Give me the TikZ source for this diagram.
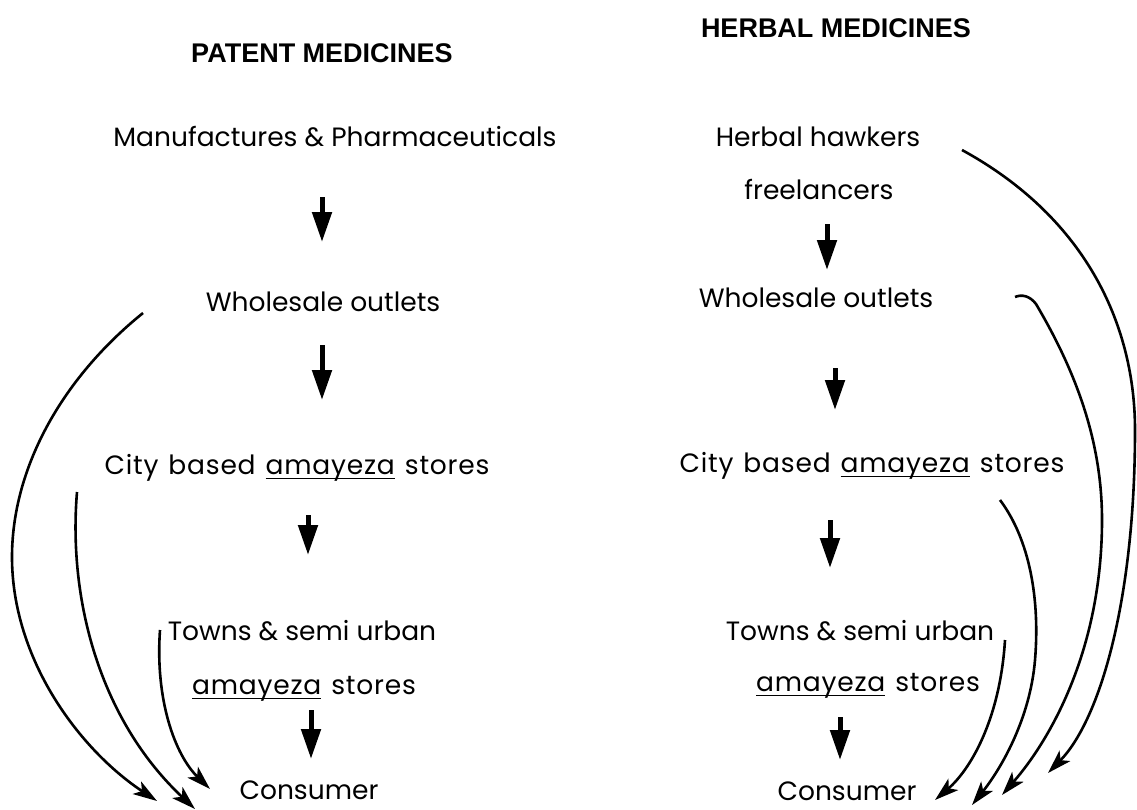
\documentclass[tikz,border=0pt]{standalone}
\usepackage{fontspec}
\setmainfont{Poppins}
\newfontfamily\headfont{Liberation Sans}
\usetikzlibrary{arrows.meta}
\newcommand\ulx[1]{\setbox0\hbox{#1}\rlap{\rule[-5pt]{\wd0}{1.3pt}}#1}
\newcommand\widetxt[1]{{\addfontfeatures{LetterSpace=3}\spaceskip=10pt\relax #1}}
\begin{document}
\begin{tikzpicture}[x=1pt,y=-1pt,
  lbl/.style={anchor=base,inner sep=0pt,font=\fontsize{26.5}{30}\selectfont},
  head/.style={anchor=base,inner sep=0pt,font=\headfont\bfseries\fontsize{27}{30}\selectfont},
  darr/.style={line width=5pt,-{Triangle[length=30pt,width=19pt]}},
  carr/.style={line width=2.6pt,-{Stealth[length=24pt,width=15pt,inset=6pt]}}]
\useasboundingbox (0,0) rectangle (1137,809);
% headings
\node[head] (hp) at (322,62) {PATENT MEDICINES};
\node[head] (hh) at (836,37) {HERBAL MEDICINES};
% left column
\node[lbl] (lm) at (335,146) {Manufactures \& Pharmaceuticals};
\node[lbl] (lw) at (323,311) {Wholesale outlets};
\node[lbl] (lc) at (297,474) {\widetxt{City based \ulx{amayeza} stores}};
\node[lbl] (lt) at (302,640) {Towns \& semi urban};
\node[lbl] (la) at (304,694) {\widetxt{\ulx{amayeza} stores}};
\node[lbl] (lcon) at (309,799) {Consumer};
% right column
\node[lbl] (rh) at (818,146) {Herbal hawkers};
\node[lbl] (rf) at (819,199) {freelancers};
\node[lbl] (rw) at (816,307) {Wholesale outlets};
\node[lbl] (rc) at (872,472) {\widetxt{City based \ulx{amayeza} stores}};
\node[lbl] (rt) at (860,640) {Towns \& semi urban};
\node[lbl] (ra) at (868,691) {\widetxt{\ulx{amayeza} stores}};
\node[lbl] (rcon) at (847,800) {Consumer};
% straight arrows, left
\draw[darr] ([shift={(-13,51)}]lm.base) -- ([shift={(-1,-69)}]lw.base);
\draw[darr] ([shift={(-1,34)}]lw.base) -- ([shift={(25,-74)}]lc.base);
\draw[darr] ([shift={(11,41)}]lc.base) -- ([shift={(6,-85)}]lt.base);
\draw[darr] ([shift={(7,16)}]la.base) -- ([shift={(2,-40)}]lcon.base);
% straight arrows, right
\draw[darr] ([shift={(8,25)}]rf.base) -- ([shift={(11,-37)}]rw.base);
\draw[darr] ([shift={(19,61)}]rw.base) -- ([shift={(-37,-62)}]rc.base);
\draw[darr] ([shift={(-42,48)}]rc.base) -- ([shift={(-30,-72)}]rt.base);
\draw[darr] ([shift={(-28,26)}]ra.base) -- ([shift={(-7,-40)}]rcon.base);
% curved arrows, left
\draw[carr] ([shift={(-180,2)}]lw.base) .. controls (60,380) and (12,470) .. (12,557)
   .. controls (12,660) and (80,750) .. ([shift={(-152,2)}]lcon.base);
\draw[carr] ([shift={(-220,18)}]lc.base) .. controls (68,600) and (100,720) .. ([shift={(-114,10)}]lcon.base);
\draw[carr] ([shift={(-142,-10)}]lt.base) .. controls (155,700) and (175,755) .. ([shift={(-99,-10)}]lcon.base);
% curved arrows, right
\draw[carr] ([shift={(144,4)}]rh.base) .. controls (1090,220) and (1135,330) .. (1135,430)
   .. controls (1135,600) and (1100,720) .. ([shift={(201,-27)}]rcon.base);
\draw[carr] ([shift={(199,-10)}]rw.base) .. controls (1022,294) and (1030,296) .. (1036,304)
   .. controls (1075,370) and (1102,440) .. (1102,520)
   .. controls (1102,650) and (1050,740) .. ([shift={(155,-5)}]rcon.base);
\draw[carr] ([shift={(128,28)}]rc.base) .. controls (1030,540) and (1040,600) .. (1035,660)
   .. controls (1030,720) and (1000,770) .. ([shift={(125,5)}]rcon.base);
\draw[carr] ([shift={(145,0)}]rt.base) .. controls (1000,720) and (970,770) .. ([shift={(88,0)}]rcon.base);
\end{tikzpicture}
\end{document}
